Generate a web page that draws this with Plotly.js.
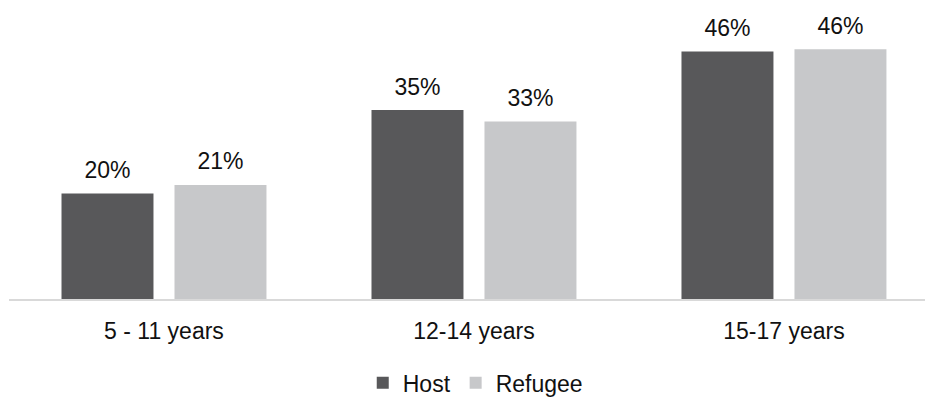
<!DOCTYPE html>
<html>
<head>
<meta charset="utf-8">
<script src="https://cdn.plot.ly/plotly-3.0.1.min.js"></script>
<style>html,body{margin:0;padding:0;background:#fff;}#chart{width:925px;height:398px;}</style>
</head>
<body>
<div id="chart"></div>
<script>
const categories = ["5 - 11 years", "12-14 years", "15-17 years"];
const hostValues = [19.6, 35.1, 46.0];
const refugeeValues = [21.2, 33.0, 46.4];
const seriesNames = ["Host", "Refugee"];
const seriesColors = ["#58585A", "#C7C8CA"];

const FONT = "'Liberation Sans Narrow', 'Arial Narrow', 'Liberation Sans', Arial, sans-serif";
const FS = 23;
const GAP = 0.271;

function barTrace(name, values, color) {
  return {
    type: "bar", name: name, x: categories, y: values,
    marker: {color: color, line: {width: 0}},
    hoverinfo: "skip"
  };
}
function labelTrace(values) {
  return {
    type: "scatter", mode: "markers+text", x: categories, y: values,
    text: values.map(v => Math.round(v) + "%"),
    textposition: "top center",
    textfont: {family: FONT, size: FS, color: "#111111"},
    marker: {size: 14, opacity: 0},
    showlegend: false, hoverinfo: "skip", cliponaxis: false
  };
}

const data = [
  barTrace(seriesNames[0], hostValues, seriesColors[0]),
  barTrace(seriesNames[1], refugeeValues, seriesColors[1]),
  labelTrace(hostValues),
  labelTrace(refugeeValues)
];

const layout = {
  width: 925, height: 398,
  margin: {l: 9, r: 0, t: 10, b: 99, autoexpand: false},
  paper_bgcolor: "#ffffff", plot_bgcolor: "#ffffff",
  font: {family: FONT, size: FS, color: "#111111"},
  barmode: "group", bargap: GAP, bargroupgap: 0.186,
  scattermode: "group", scattergap: GAP,
  xaxis: {
    type: "category", range: [-0.5, 2.455], fixedrange: true,
    showline: true, linecolor: "#D9D9D9", linewidth: 2,
    ticks: "", showgrid: false, zeroline: false, ticklabelstandoff: 10,
    tickfont: {family: FONT, size: FS, color: "#111111"}
  },
  yaxis: {
    range: [0, 53.7], visible: false, showgrid: false, zeroline: false, fixedrange: true
  },
  showlegend: true,
  legend: {
    orientation: "h", x: 0.509, xanchor: "center", y: 0.038, yanchor: "middle", yref: "container",
    font: {family: FONT, size: FS, color: "#111111"},
    traceorder: "normal", itemwidth: 30
  }
};

Plotly.newPlot("chart", data, layout, {displayModeBar: false, staticPlot: true});
</script>
</body>
</html>
